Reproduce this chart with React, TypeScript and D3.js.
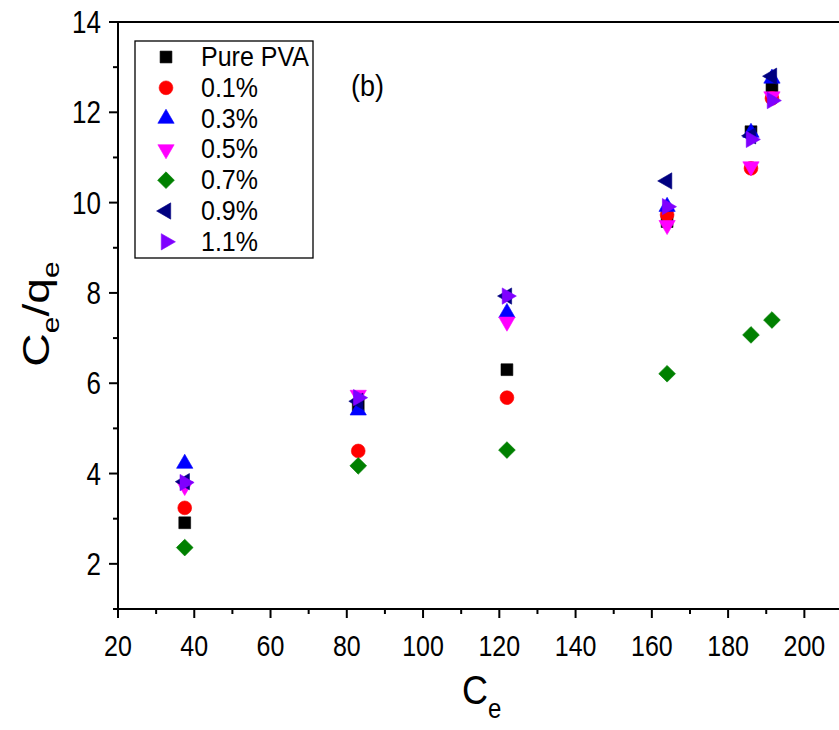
import React from 'react';
import * as d3 from 'd3';

const ceValues = [37.5, 83, 122, 164, 186, 191.5];
const seriesNames = ['Pure PVA', '0.1%', '0.3%', '0.5%', '0.7%', '0.9%', '1.1%'];
const purePVA = [2.91, 5.52, 6.3, 9.58, 11.57, 12.57];
const pct01 = [3.24, 4.5, 5.68, 9.73, 10.76, 12.31];
const pct03 = [4.22, 5.4, 7.56, 9.91, 11.55, 12.75];
const pct05 = [3.72, 5.74, 7.36, 9.5, 10.8, 12.35];
const pct07 = [2.36, 4.17, 4.52, 6.21, 7.07, 7.4];
const pct09 = [3.82, 5.6, 7.93, 10.48, 11.48, 12.8];
const pct11 = [3.8, 5.68, 7.93, 9.91, 11.4, 12.26];
const seriesColors = ['#000000', '#ff0000', '#0000ff', '#ff00ff', '#008000', '#000080', '#7f00ff'];
const xTicks = [20, 40, 60, 80, 100, 120, 140, 160, 180, 200];
const xMinor = [30, 50, 70, 90, 110, 130, 150, 170, 190, 210];
const yTicks = [2, 4, 6, 8, 10, 12, 14];
const yMinor = [1, 3, 5, 7, 9, 11, 13];

const allSeries = [purePVA, pct01, pct03, pct05, pct07, pct09, pct11];

const FONT = 'Liberation Sans, Arial, Helvetica, sans-serif';

const left = 118;
const top = 22;
const bottom = 609;
const right = 842.5;

const x = d3.scaleLinear().domain([20, 210]).range([left, right]);
const y = d3.scaleLinear().domain([1, 14]).range([bottom, top]);

type Shape = { type: d3.SymbolType; size: number; rot: number };
const shapes: Shape[] = [
  { type: d3.symbolSquare, size: 140, rot: 0 },
  { type: d3.symbolCircle, size: 150, rot: 0 },
  { type: d3.symbolTriangle, size: 115, rot: 0 },
  { type: d3.symbolTriangle, size: 115, rot: 180 },
  { type: d3.symbolSquare, size: 140, rot: 45 },
  { type: d3.symbolTriangle, size: 115, rot: -90 },
  { type: d3.symbolTriangle, size: 115, rot: 90 },
];

function Marker({ i, cx, cy }: { i: number; cx: number; cy: number }) {
  const s = shapes[i];
  const path = d3.symbol().type(s.type).size(s.size)() as string;
  return (
    <path
      d={path}
      transform={`translate(${cx},${cy}) rotate(${s.rot})`}
      fill={seriesColors[i]}
      stroke={seriesColors[i]}
      strokeWidth={0.6}
    />
  );
}

export default function App() {
  const legendX = 135;
  const legendY = 41;
  const rowH = 30.8;
  return (
    <svg
      width={839}
      height={730}
      style={{ position: 'absolute', left: 0, top: 0, background: '#fff' }}
      fontFamily={FONT}
    >
      <rect x={0} y={0} width={839} height={730} fill="#fff" />
      {/* data */}
      {allSeries.map((vals, i) => (
        <g key={i}>
          {vals.map((v, j) => (
            <Marker key={j} i={i} cx={x(ceValues[j])} cy={y(v)} />
          ))}
        </g>
      ))}
      {/* frame */}
      <line x1={left} x2={right} y1={top} y2={top} stroke="#000" strokeWidth={2} />
      <line x1={right} x2={right} y1={top} y2={bottom} stroke="#000" strokeWidth={2} />
      <line x1={left} x2={right} y1={bottom} y2={bottom} stroke="#000" strokeWidth={2} />
      <line x1={left} x2={left} y1={top - 1} y2={bottom + 1} stroke="#000" strokeWidth={2} />
      {/* x ticks */}
      {xTicks.map((t) => (
        <g key={'xt' + t}>
          <line x1={x(t)} x2={x(t)} y1={bottom} y2={bottom + 9} stroke="#000" strokeWidth={2} />
          <text
            transform={`translate(${x(t)},${bottom + 47}) scale(1,1.2)`}
            textAnchor="middle"
            fontSize={25}
          >
            {t}
          </text>
        </g>
      ))}
      {xMinor.map((t) => (
        <line key={'xm' + t} x1={x(t)} x2={x(t)} y1={bottom} y2={bottom + 5} stroke="#000" strokeWidth={2} />
      ))}
      {/* y ticks */}
      {yTicks.map((t) => (
        <g key={'yt' + t}>
          <line x1={left - 9} x2={left} y1={y(t)} y2={y(t)} stroke="#000" strokeWidth={2} />
          <text
            transform={`translate(${left - 17},${y(t) + 11}) scale(1,1.2)`}
            textAnchor="end"
            fontSize={26}
          >
            {t}
          </text>
        </g>
      ))}
      {yMinor.map((t) => (
        <line key={'ym' + t} x1={left - 5} x2={left} y1={y(t)} y2={y(t)} stroke="#000" strokeWidth={2} />
      ))}
      {/* axis titles */}
      <text transform="translate(462,704) scale(1,1.15)" fontSize={36}>
        C<tspan dy={12} fontSize={24}>e</tspan>
      </text>
      <g transform="translate(49,314) rotate(-90) scale(1.25,1)">
        <text x={0} y={0} textAnchor="middle" fontSize={37}>
          C<tspan dy={10} fontSize={24}>e</tspan>
          <tspan dy={-10}>/q</tspan>
          <tspan dy={10} fontSize={24}>e</tspan>
        </text>
      </g>
      {/* panel label */}
      <text transform="translate(351,96) scale(1,1.1)" fontSize={27}>(b)</text>
      {/* legend */}
      <rect x={legendX} y={legendY} width={178} height={217} fill="#fff" stroke="#000" strokeWidth={1.3} />
      {seriesNames.map((name, i) => {
        const cy = legendY + 16 + i * rowH;
        return (
          <g key={name}>
            <Marker i={i} cx={166} cy={cy} />
            <text transform={`translate(201,${cy + 9}) scale(1,1.1)`} fontSize={25}>
              {name}
            </text>
          </g>
        );
      })}
    </svg>
  );
}
